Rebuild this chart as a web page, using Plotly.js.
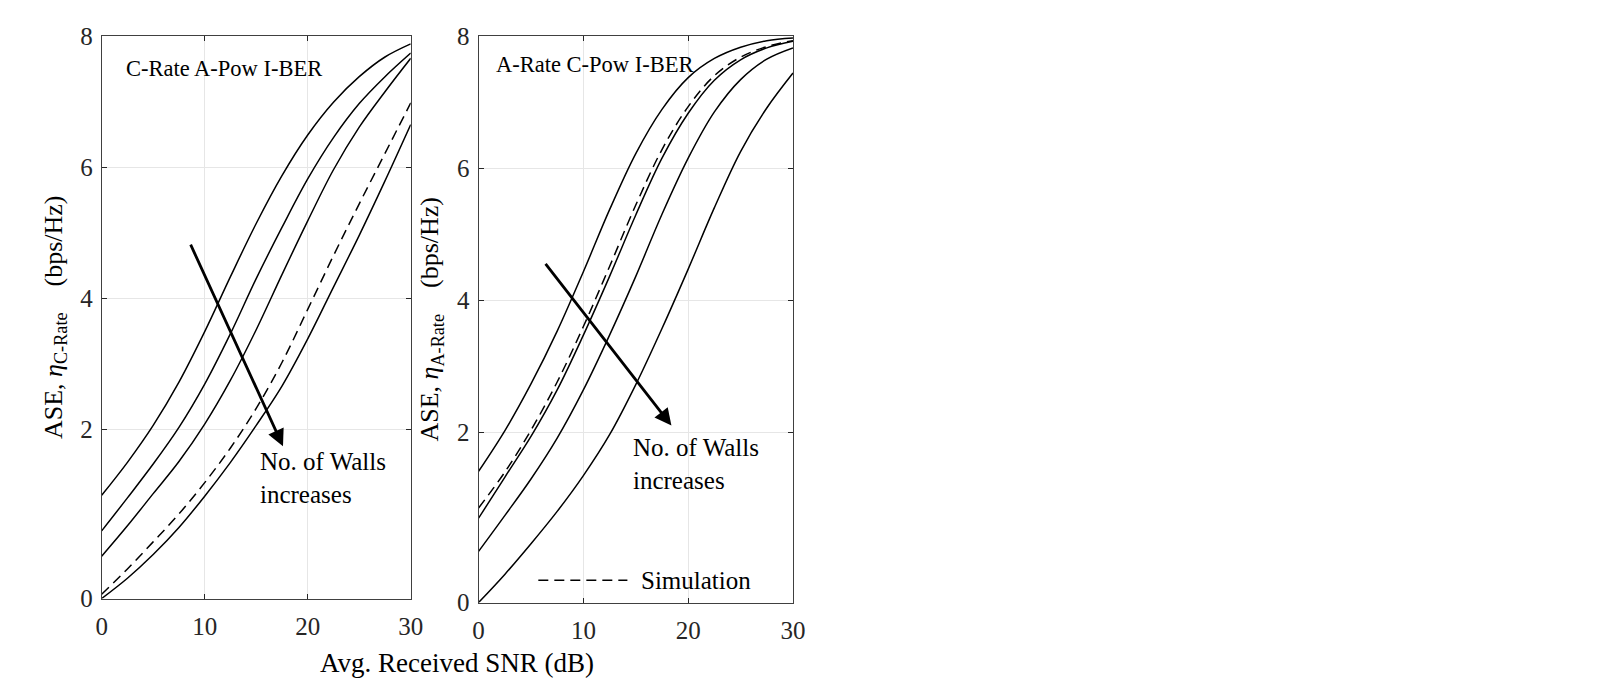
<!DOCTYPE html>
<html>
<head>
<meta charset="utf-8">
<script src="https://cdn.plot.ly/plotly-3.0.1.min.js"></script>
<style>
  html, body { margin: 0; padding: 0; background: #fff; }
  #plot { width: 1619px; height: 690px; }
</style>
</head>
<body>
<div id="plot"></div>
<script>
// avg received SNR (dB), same grid for every curve
const snr = [0, 2.5, 5, 7.5, 10, 12.5, 15, 17.5, 20, 22.5, 25, 27.5, 30];

// left panel, C-Rate A-Pow I-BER (walls increase from 1 to 4)
const cRateWalls1 = [1.22, 1.61, 2.06, 2.72, 3.49, 4.33, 5.14, 5.87, 6.49, 6.99, 7.38, 7.68, 7.88];
const cRateWalls2 = [0.80, 1.19, 1.59, 2.03, 2.69, 3.46, 4.30, 5.08, 5.82, 6.45, 6.97, 7.38, 7.74];
const cRateWalls3 = [0.50, 0.86, 1.24, 1.62, 2.08, 2.75, 3.52, 4.36, 5.18, 5.96, 6.61, 7.15, 7.66];
const cRateSim    = [0.05, 0.35, 0.67, 1.00, 1.37, 1.78, 2.32, 3.02, 3.83, 4.65, 5.44, 6.21, 6.98];
const cRateWalls4 = [0.00, 0.24, 0.52, 0.84, 1.21, 1.61, 2.06, 2.66, 3.38, 4.17, 4.96, 5.79, 6.65];

// right panel, A-Rate C-Pow I-BER
const aRateWalls1 = [1.54, 2.02, 2.73, 3.53, 4.43, 5.37, 6.22, 6.89, 7.37, 7.66, 7.83, 7.93, 7.97];
const aRateSim    = [1.11, 1.53, 2.03, 2.76, 3.60, 4.51, 5.44, 6.28, 6.93, 7.40, 7.68, 7.84, 7.93];
const aRateWalls2 = [0.99, 1.47, 1.95, 2.64, 3.47, 4.36, 5.29, 6.15, 6.83, 7.33, 7.64, 7.82, 7.92];
const aRateWalls3 = [0.60, 1.02, 1.45, 1.93, 2.64, 3.47, 4.36, 5.30, 6.15, 6.85, 7.34, 7.65, 7.82];
const aRateWalls4 = [0.00, 0.33, 0.69, 1.07, 1.49, 1.97, 2.72, 3.57, 4.47, 5.40, 6.25, 6.91, 7.44];

const yTicks = [0, 2, 4, 6, 8];
const xTicks = [0, 10, 20, 30];

// the original y axis is stretched below 2: the 0..2 step is ~1.29x the others
const lowStretch = 1.29;
function yPos(v) {
    return v >= 2 ? v : 2 - (2 - v) * lowStretch;
}

const font = "'Liberation Serif', 'Times New Roman', Times, serif";
const ink = '#262626';
const dashStyle = '10px,6px';

function curve(vals, xa, ya, dashed) {
    return {
        x: snr,
        y: vals.map(yPos),
        xaxis: xa,
        yaxis: ya,
        mode: 'lines',
        hoverinfo: 'skip',
        line: { color: '#000', width: 1.5, shape: 'spline', smoothing: 1, dash: dashed ? dashStyle : 'solid' }
    };
}

const data = [
    curve(cRateWalls1, 'x', 'y'),
    curve(cRateWalls2, 'x', 'y'),
    curve(cRateWalls3, 'x', 'y'),
    curve(cRateSim, 'x', 'y', true),
    curve(cRateWalls4, 'x', 'y'),
    curve(aRateWalls1, 'x2', 'y2'),
    curve(aRateSim, 'x2', 'y2', true),
    curve(aRateWalls2, 'x2', 'y2'),
    curve(aRateWalls3, 'x2', 'y2'),
    curve(aRateWalls4, 'x2', 'y2')
];

function xAxis(domain, anchor) {
    return {
        domain: domain, anchor: anchor, range: [0, 30],
        tickvals: xTicks, ticks: 'inside', ticklen: 5, tickcolor: ink,
        showline: true, linecolor: '#404040', linewidth: 1, mirror: 'ticks',
        showgrid: true, gridcolor: '#e6e6e6', zeroline: false,
        ticklabelstandoff: 5,
        tickfont: { family: font, size: 25, color: ink }
    };
}

function yAxis(domain, anchor, sub) {
    return {
        domain: domain, anchor: anchor, range: [yPos(0), 8],
        tickvals: yTicks.map(yPos), ticktext: yTicks.map(String),
        ticks: 'inside', ticklen: 5, tickcolor: ink,
        showline: true, linecolor: '#404040', linewidth: 1, mirror: 'ticks',
        showgrid: true, gridcolor: '#e6e6e6', zeroline: false,
        ticklabelstandoff: 3,
        tickfont: { family: font, size: 25, color: ink },
        title: {
            text: 'ASE, <i>η</i><sub>' + sub + '</sub>&nbsp;&nbsp;&nbsp;&nbsp;(bps/Hz)',
            font: { family: font, size: 26, color: '#000' },
            standoff: 10
        }
    };
}

function label(text, xa, ya, x, v, size) {
    return {
        text: text, xref: xa, yref: ya, x: x, y: yPos(v),
        xanchor: 'left', yanchor: 'middle', align: 'left', showarrow: false,
        font: { family: font, size: size, color: '#000' }
    };
}

function arrow(xa, ya, x0, v0, x1, v1) {
    return {
        text: '', xref: xa, yref: ya, axref: xa, ayref: ya,
        x: x1, y: yPos(v1), ax: x0, ay: yPos(v0),
        showarrow: true, arrowhead: 2, arrowsize: 1.2, arrowwidth: 2.8, arrowcolor: '#000'
    };
}

const layout = {
    width: 1619,
    height: 690,
    margin: { l: 0, r: 0, t: 0, b: 0 },
    paper_bgcolor: '#fff',
    plot_bgcolor: '#fff',
    showlegend: false,
    xaxis: xAxis([0.0628, 0.2537], 'y'),
    yaxis: yAxis([0.1326, 0.9478], 'x', 'C-Rate'),
    xaxis2: xAxis([0.2956, 0.4898], 'y2'),
    yaxis2: yAxis([0.1268, 0.9478], 'x2', 'A-Rate'),
    shapes: [
        { type: 'line', xref: 'x2', yref: 'y2', x0: 5.7, x1: 14.2, y0: yPos(0.26), y1: yPos(0.26),
          line: { color: '#000', width: 1.5, dash: dashStyle } }
    ],
    annotations: [
        label('C-Rate A-Pow I-BER', 'x', 'y', 2.2, 7.51, 22.5),
        label('No. of Walls<br>increases', 'x', 'y', 15.2, 1.42, 25),
        arrow('x', 'y', 8.57, 4.84, 17.6, 1.80),
        label('A-Rate C-Pow I-BER', 'x2', 'y2', 1.5, 7.57, 22.5),
        label('No. of Walls<br>increases', 'x2', 'y2', 14.55, 1.63, 25),
        arrow('x2', 'y2', 6.28, 4.57, 18.4, 2.10),
        label('Simulation', 'x2', 'y2', 15.3, 0.26, 25),
        {
            text: 'Avg. Received SNR (dB)', xref: 'paper', yref: 'paper',
            x: 0.2823, y: 0.039, xanchor: 'center', yanchor: 'middle', showarrow: false,
            font: { family: font, size: 27, color: '#000' }
        }
    ]
};

Plotly.newPlot('plot', data, layout, { staticPlot: true });
</script>
</body>
</html>
